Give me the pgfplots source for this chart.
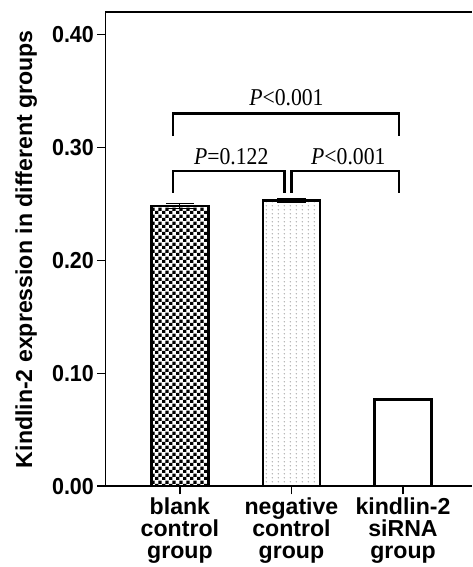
\documentclass[border=0pt]{standalone}
\usepackage{fontspec}
\setmainfont{Liberation Serif}
\setsansfont{Liberation Sans}
\newfontfamily\ticksans[FakeStretch=0.93]{Liberation Sans}
\newfontfamily\pserif[FakeStretch=0.9]{Liberation Serif}
\usepackage{pgfplots}
\pgfplotsset{compat=1.18}
\usetikzlibrary{patterns}

% small checkerboard and fine dot fills for the first two bars
\pgfdeclarepatternformonly{checks}{\pgfqpoint{0pt}{0pt}}{\pgfqpoint{6.7pt}{6.7pt}}{\pgfqpoint{6.7pt}{6.7pt}}{%
  \pgfpathrectangle{\pgfqpoint{0pt}{0pt}}{\pgfqpoint{3.35pt}{3.35pt}}%
  \pgfpathrectangle{\pgfqpoint{3.35pt}{3.35pt}}{\pgfqpoint{3.35pt}{3.35pt}}%
  \pgfusepath{fill}}
\pgfdeclarepatternformonly{finedots}{\pgfqpoint{0pt}{0pt}}{\pgfqpoint{6pt}{4pt}}{\pgfqpoint{6pt}{4pt}}{%
  \pgfpathcircle{\pgfqpoint{1.5pt}{1.5pt}}{0.8pt}\pgfusepath{fill}}

\begin{document}
\begin{tikzpicture}
\begin{axis}[
  scale only axis,
  width=365pt, height=472pt,
  xmin=-0.667, xmax=2.62,
  ymin=0, ymax=0.42,
  axis x line=box, axis y line=left,
  axis line style={-, line width=1.6pt},
  xtick pos=left, ytick pos=left,
  tick align=outside,
  major tick length=8pt,
  every tick/.style={black, line width=1.6pt},
  ytick={0,0.1,0.2,0.3,0.4},
  yticklabel style={font=\ticksans\bfseries\fontsize{23}{23}\selectfont,
    /pgf/number format/.cd, fixed, fixed zerofill, precision=2, assume math mode=true},
  xtick={0,1,2},
  xticklabels={{blank\\control\\group},{negative\\control\\group},{kindlin-2\\siRNA\\group}},
  xticklabel style={align=center, font=\sffamily\bfseries\fontsize{23}{22}\selectfont},
  ylabel={Kindlin-2 expression in different groups},
  ylabel style={at={(rel axis cs:0,0.5)}, anchor=base, yshift=73pt,
    font=\sffamily\bfseries\fontsize{23}{23}\selectfont},
  clip=false,
]
\addplot[ybar, bar width=57pt, draw=black, line width=2.5pt, pattern=checks,
  error bars/.cd, y dir=both, y explicit,
  error bar style={line width=1pt, black},
  error mark options={rotate=90, mark size=14pt, line width=1pt}]
  coordinates {(0,0.248) +- (0,0.002)};
\addplot[ybar, bar width=57pt, draw=black, line width=2.5pt, pattern=finedots, pattern color=gray!75,
  error bars/.cd, y dir=both, y explicit,
  error bar style={line width=1pt, black},
  error mark options={rotate=90, mark size=14pt, line width=1pt}]
  coordinates {(1,0.253) +- (0,0.002)};
\addplot[ybar, bar width=57pt, draw=black, line width=2.5pt, fill=white,
  error bars/.cd, y dir=both, y explicit,
  error bar style={line width=1pt, black},
  error mark options={rotate=90, mark size=14pt, line width=1pt}]
  coordinates {(2,0.077) +- (0,0.001)};

% significance brackets
\draw[line width=2.5pt] (axis cs:-0.063,0.26) |- (axis cs:0.937,0.279) -- (axis cs:0.937,0.26);
\draw[line width=2.5pt] (axis cs:1.0,0.26) |- (axis cs:1.964,0.279) -- (axis cs:1.964,0.26);
\draw[line width=2.5pt] (axis cs:-0.063,0.31) |- (axis cs:1.964,0.33) -- (axis cs:1.964,0.31);
\node[font=\pserif\fontsize{24}{24}\selectfont] at (axis cs:0.955,0.344) {\textit{P}<0.001};
\node[font=\pserif\fontsize{24}{24}\selectfont] at (axis cs:0.46,0.292) {\textit{P}=0.122};
\node[font=\pserif\fontsize{24}{24}\selectfont] at (axis cs:1.51,0.292) {\textit{P}<0.001};

% white margin above and left of the frame, as in the figure
\path (rel axis cs:0,1) -- ++(-105pt,12pt);
\end{axis}
\end{tikzpicture}
\end{document}
